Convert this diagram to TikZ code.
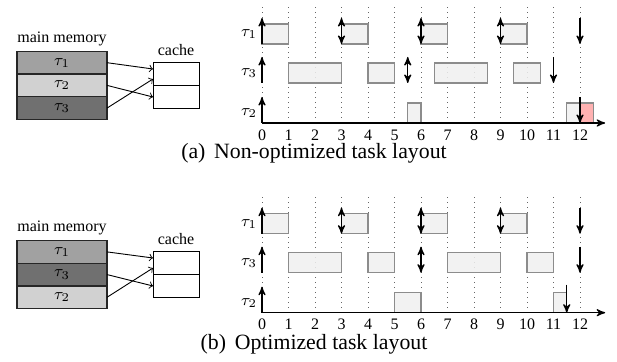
\documentclass[tikz,border=0pt]{standalone}
\usepackage{fontspec}
\setmainfont{Liberation Serif}
\usetikzlibrary{arrows}
\usetikzlibrary{positioning}

\tikzset{
  memblock/.style={draw=black!85, line width=0.6pt, minimum width=45pt, minimum height=11.35pt,
    inner sep=0pt, outer sep=0pt, font=\fontsize{8}{9}\selectfont},
  cacheslot/.style={draw, line width=0.5pt, minimum width=23pt, minimum height=11.5pt,
    inner sep=0pt, outer sep=0pt},
  smalltext/.style={inner sep=1pt, font=\fontsize{8}{9}\selectfont},
  captiontext/.style={inner sep=0pt, font=\fontsize{10.9}{12}\selectfont},
  memarrow/.style={->, >=to, line width=0.45pt},
  job/.style={draw=black!45, fill=black!6, fill opacity=0.85, line width=0.6pt},
  missed/.style={draw=black!45, fill=red!30, line width=0.6pt},
  release/.style={->, >=stealth', line width=0.6pt},
  deadline/.style={->, >=stealth', line width=0.6pt},
  reldead/.style={<->, >=stealth', line width=0.6pt},
  slotline/.style={black!60, dotted, line width=0.5pt}
}

\begin{document}
\begin{tikzpicture}[x=0.5pt, y=-0.5pt]
  \useasboundingbox (0,0) rectangle (617,362);

  % (a) memory layout
  \node[memblock, fill=black!37] (mtopa) at (62,62.7) {$\tau_1$};
  \node[memblock, fill=black!18, below=0pt of mtopa] (mtopb) {$\tau_2$};
  \node[memblock, fill=black!56, below=0pt of mtopb] (mtopc) {$\tau_3$};
  \node[smalltext, above=1.5pt of mtopa] (mtoplabel) {main memory};

  \node[cacheslot] (ctopa) at (176,74) {};
  \node[cacheslot, below=0pt of ctopa] (ctopb) {};
  \node[smalltext, above=2pt of ctopa] (ctoplabel) {cache};

  \draw[memarrow] (mtopa.east) -- ([yshift=2.5pt]ctopa.west);
  \draw[memarrow] (mtopb.east) -- (ctopb.west);
  \draw[memarrow] (mtopc.east) -- ([yshift=-2.5pt]ctopa.west);

  % (a) schedule
  \begin{scope}[xshift=131pt, yshift=-61.5pt, x=13.25pt, y=0.5pt]
    \foreach \t in {0,...,12}
      \draw[slotline] (\t,0) -- (\t,119);
    \foreach \t in {0,...,12}
      \node[smalltext] (tta\t) at (\t,-12) {\t};

    \node[smalltext, anchor=east] (rowa1) at (-0.1,89) {$\tau_1$};
    \node[smalltext, anchor=east] (rowa3) at (-0.1,50) {$\tau_3$};
    \node[smalltext, anchor=east] (rowa2) at (-0.1,10) {$\tau_2$};

    % tau_1
    \draw[job] (0,79) rectangle (1,99);
    \draw[job] (3,79) rectangle (4,99);
    \draw[job] (6,79) rectangle (7,99);
    \draw[job] (9,79) rectangle (10,99);
    % tau_3
    \draw[job] (1,40) rectangle (3,60);
    \draw[job] (4,40) rectangle (5,60);
    \draw[job] (6.5,40) rectangle (8.5,60);
    \draw[job] (9.5,40) rectangle (10.5,60);
    % tau_2
    \draw[job] (5.5,0) rectangle (6,20);
    \draw[job] (11.5,0) rectangle (12,20);
    \draw[missed] (12,0) rectangle (12.5,20);

    \draw[release] (0,79) -- (0,105);
    \draw[reldead] (3,79) -- (3,105);
    \draw[reldead] (6,79) -- (6,105);
    \draw[reldead] (9,79) -- (9,105);
    \draw[deadline] (12,105) -- (12,79);

    \draw[release] (0,40) -- (0,66);
    \draw[reldead] (5.5,40) -- (5.5,66);
    \draw[deadline] (11,66) -- (11,40);

    \draw[release] (0,0) -- (0,26);
    \draw[->, >=stealth', line width=0.6pt] (0,0) -- (12.95,0);
    \draw[deadline] (12,26) -- (12,0);
  \end{scope}

  \node[captiontext] (capa) at (314,153) {(a)\hspace{0.4em}Non-optimized task layout};

  % (b) memory layout
  \node[memblock, fill=black!37] (mbota) at (62,251.9) {$\tau_1$};
  \node[memblock, fill=black!56, below=0pt of mbota] (mbotb) {$\tau_3$};
  \node[memblock, fill=black!18, below=0pt of mbotb] (mbotc) {$\tau_2$};
  \node[smalltext, above=1.5pt of mbota] (mbotlabel) {main memory};

  \node[cacheslot] (cbota) at (176,263) {};
  \node[cacheslot, below=0pt of cbota] (cbotb) {};
  \node[smalltext, above=2pt of cbota] (cbotlabel) {cache};

  \draw[memarrow] (mbota.east) -- ([yshift=2.5pt]cbota.west);
  \draw[memarrow] (mbotb.east) -- (cbotb.west);
  \draw[memarrow] (mbotc.east) -- ([yshift=-2.5pt]cbota.west);

  % (b) schedule
  \begin{scope}[xshift=131pt, yshift=-156.35pt, x=13.25pt, y=0.5pt]
    \foreach \t in {0,...,12}
      \draw[slotline] (\t,0) -- (\t,119.7);
    \foreach \t in {0,...,12}
      \node[smalltext] (ttb\t) at (\t,-12) {\t};

    \node[smalltext, anchor=east] (rowb1) at (-0.1,89) {$\tau_1$};
    \node[smalltext, anchor=east] (rowb3) at (-0.1,50) {$\tau_3$};
    \node[smalltext, anchor=east] (rowb2) at (-0.1,10) {$\tau_2$};

    % tau_1
    \draw[job] (0,79) rectangle (1,99);
    \draw[job] (3,79) rectangle (4,99);
    \draw[job] (6,79) rectangle (7,99);
    \draw[job] (9,79) rectangle (10,99);
    % tau_3
    \draw[job] (1,40) rectangle (3,60);
    \draw[job] (4,40) rectangle (5,60);
    \draw[job] (7,40) rectangle (9,60);
    \draw[job] (10,40) rectangle (11,60);
    % tau_2
    \draw[job] (5,0) rectangle (6,20);
    \draw[job] (11,0) rectangle (11.5,20);

    \draw[release] (0,79) -- (0,105);
    \draw[reldead] (3,79) -- (3,105);
    \draw[reldead] (6,79) -- (6,105);
    \draw[reldead] (9,79) -- (9,105);
    \draw[deadline] (12,105) -- (12,79);

    \draw[release] (0,40) -- (0,66);
    \draw[reldead] (6,40) -- (6,66);
    \draw[deadline] (12,66) -- (12,40);

    \draw[release] (0,0) -- (0,26);
    \draw[->, >=stealth', line width=0.6pt] (0,0) -- (12.95,0);
    \draw[deadline] (11.5,28) -- (11.5,0);
  \end{scope}

  \node[captiontext] (capb) at (314,344) {(b)\hspace{0.4em}Optimized task layout};
\end{tikzpicture}
\end{document}
